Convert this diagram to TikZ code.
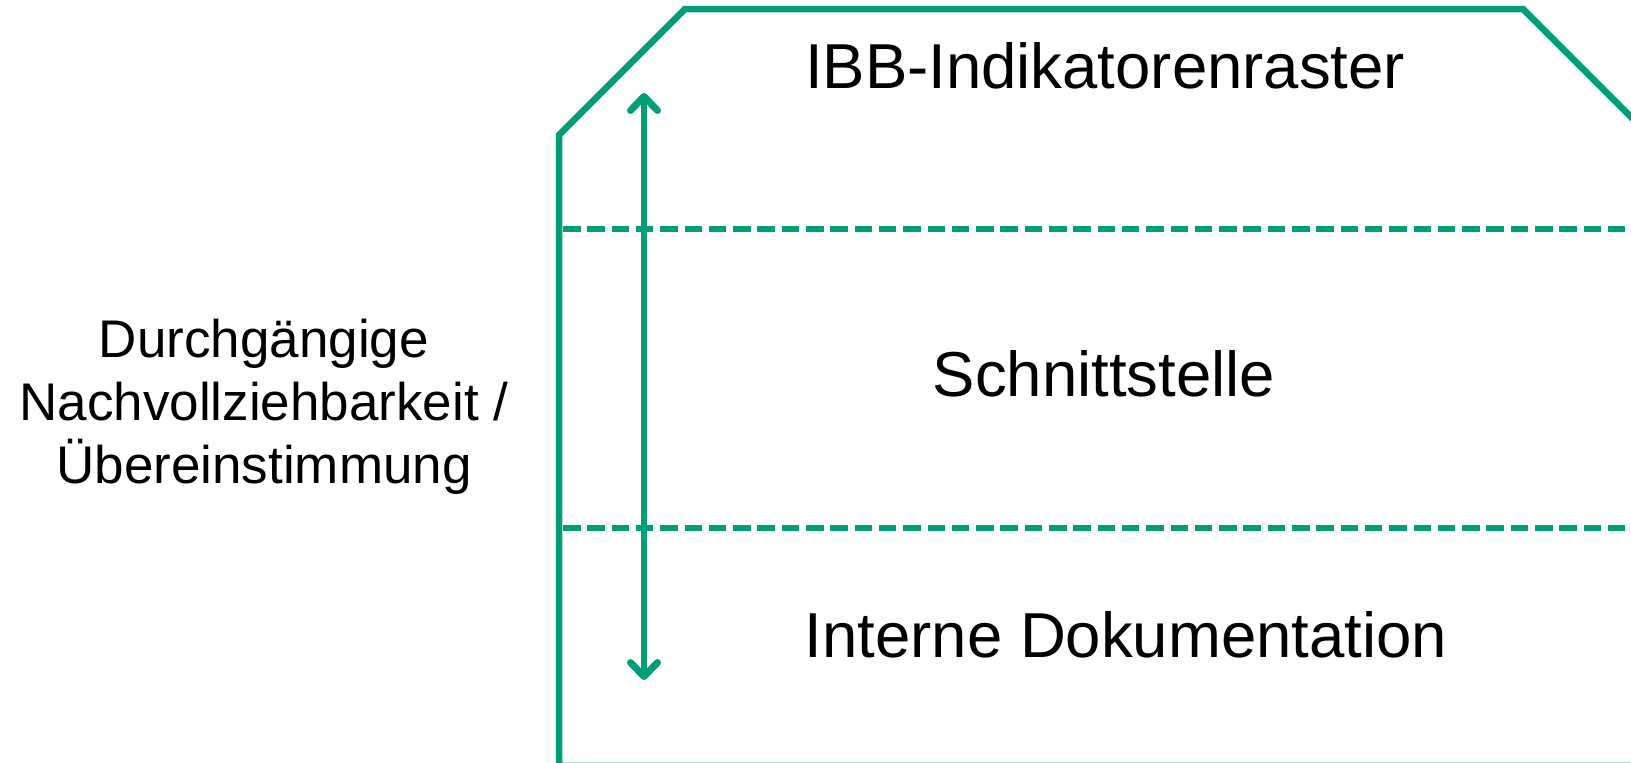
\documentclass[tikz,border=0pt]{standalone}
\usepackage{fontspec}
\setmainfont{Liberation Sans}
\usetikzlibrary{arrows.meta}
\definecolor{ibbgreen}{RGB}{0,158,118}
\tikzset{
  frame/.style={draw=ibbgreen, line width=6.5pt, line join=miter},
  divider/.style={draw=ibbgreen, line width=6.5pt, dash pattern=on 17.5pt off 6.8pt, dash phase=-4pt},
  barb/.tip={Straight Barb[length=14pt,width=27pt,line width=7pt,round]},
  span/.style={draw=ibbgreen, line width=6.5pt, barb-barb},
  layer/.style={font=\fontsize{63.5}{70}\selectfont, anchor=base, inner sep=0pt},
  side/.style={font=\fontsize{53}{63}\selectfont, align=center, inner sep=0pt, anchor=base}
}
\begin{document}
\begin{tikzpicture}[x=1pt,y=-1pt]
  \useasboundingbox (0,0) rectangle (1631,763);
  \clip (0,0) rectangle (1631,763);
  % outer housing with chamfered top corners
  \draw[frame] (559,765.8) -- (559,135) -- (685,9) -- (1523,9) -- (1700,186) -- (1700,765.8) -- cycle;
  % layer separators
  \draw[divider] (559,229) -- (1640,229);
  \draw[divider] (559,528) -- (1640,528);
  % layer titles
  \node[layer] (top) at (1105,88) {IBB-Indikatorenraster};
  \node[layer] (mid) at (1104,396) {Schnittstelle};
  \node[layer] (bot) at (1126,657) {Interne Dokumentation};
  % traceability across all layers
  \coordinate (atop) at (644,93);
  \coordinate (abot) at (644,680);
  \draw[span] (atop) -- (abot);
  % label spanning the layers; the base anchor sits on the last line
  \node[side] (lbl) at (264,483) {Durchgängige\\Nachvollziehbarkeit /\\Übereinstimmung};
\end{tikzpicture}
\end{document}
